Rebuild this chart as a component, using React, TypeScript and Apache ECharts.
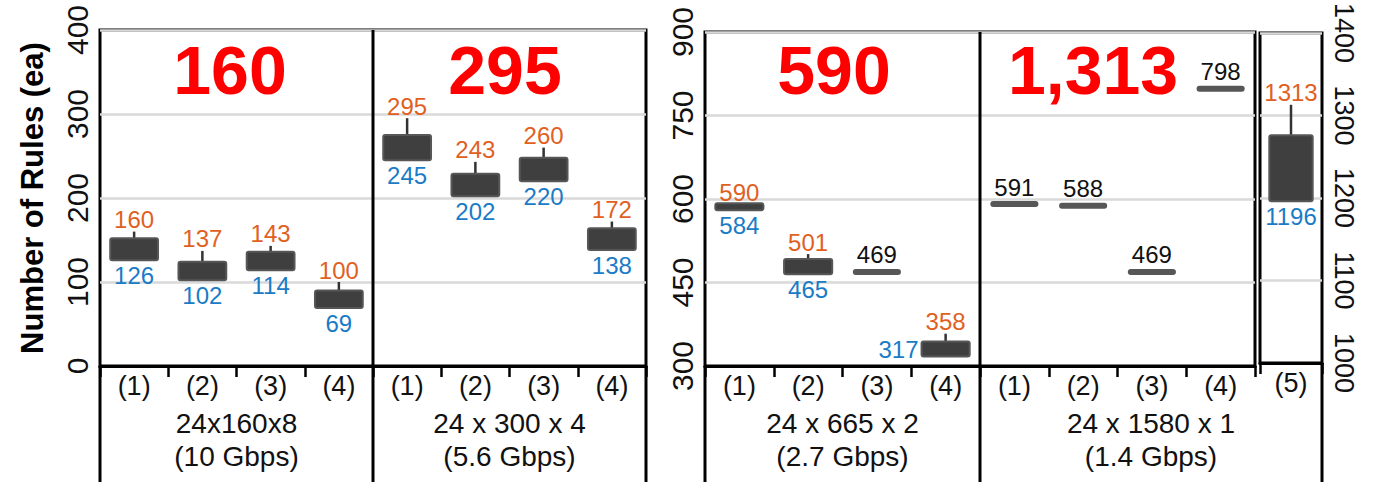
import React, { useEffect, useRef } from "react";
import * as echarts from "echarts";

// ---------- data ----------
const leftCategories = ["(1)", "(2)", "(3)", "(4)", "(1)", "(2)", "(3)", "(4)"];
const leftMin = [126, 102, 114, 69, 245, 202, 220, 138];
const leftBoxTop = [152, 124, 136, 90, 275, 229, 248, 164];
const leftMax = [160, 137, 143, 100, 295, 243, 260, 172];

const rightCategories = ["(1)", "(2)", "(3)", "(4)", "(1)", "(2)", "(3)", "(4)"];
const rightMin = [584, 465, 469, 317, 591, 588, 469, 798];
const rightBoxTop = [588, 492, 469, 344, 591, 588, 469, 798];
const rightMax = [590, 501, 469, 358, 591, 588, 469, 798];

const extraCategories = ["(5)"];
const extraMin = [1196];
const extraBoxTop = [1276];
const extraMax = [1313];

const leftTicks = [0, 100, 200, 300, 400];
const rightTicks = [300, 450, 600, 750, 900];
const extraTicks = [1000, 1100, 1200, 1300, 1400];

const panelTotals = ["160", "295", "590", "1,313"];
const groupLine1 = ["24x160x8", "24 x 300 x 4", "24 x 665 x 2", "24 x 1580 x 1"];
const groupLine2 = ["(10 Gbps)", "(5.6 Gbps)", "(2.7 Gbps)", "(1.4 Gbps)"];

const yTitle = "Number of Rules (ea)";

// ---------- styles ----------
const FONT = "'Liberation Sans', Arial, Helvetica, sans-serif";
const ORANGE = "#E0611F";
const BLUE = "#1A7BC6";
const BOX_FILL = "#3f3f3f";
const BOX_STROKE = "#575757";
const GRID_GRAY = "#d9d9d9";

function buildData(min: number[], top: number[], max: number[]) {
  return min.map((v, i) => [i, v, top[i], max[i]]);
}

function renderItem(params: any, api: any) {
  const idx = api.value(0);
  const lo = api.value(1);
  const top = api.value(2);
  const hi = api.value(3);
  const pLo = api.coord([idx, lo]);
  const pTop = api.coord([idx, top]);
  const pHi = api.coord([idx, hi]);
  const band = api.size([1, 0])[0];
  const w = band * 0.7;
  const cx = pLo[0];
  const cs = params.coordSys;
  const gridBottom = cs.y + cs.height;
  const children: any[] = [];
  const labelFont = `24px ${FONT}`;
  if (lo === hi) {
    children.push({
      type: "rect",
      shape: { x: cx - w / 2, y: pLo[1] - 3, width: w, height: 6, r: 3 },
      style: { fill: "#575757" },
    });
    children.push({
      type: "text",
      style: {
        text: String(lo),
        x: cx,
        y: pLo[1] - 17,
        align: "center",
        verticalAlign: "middle",
        fill: "#111",
        font: labelFont,
      },
    });
  } else {
    let y0 = pTop[1];
    let h = pLo[1] - pTop[1];
    const minH = 7;
    if (h < minH) {
      y0 = (pTop[1] + pLo[1]) / 2 - minH / 2;
      h = minH;
    }
    children.push({
      type: "line",
      shape: { x1: cx, y1: pHi[1], x2: cx, y2: y0 },
      style: { stroke: "#333", lineWidth: 2.5 },
    });
    children.push({
      type: "rect",
      shape: { x: cx - w / 2, y: y0, width: w, height: h, r: 2 },
      style: { fill: BOX_FILL, stroke: BOX_STROKE, lineWidth: 2 },
    });
    children.push({
      type: "text",
      style: {
        text: String(hi),
        x: cx,
        y: pHi[1] - 12,
        align: "center",
        verticalAlign: "middle",
        fill: ORANGE,
        font: labelFont,
      },
    });
    const bottom = y0 + h;
    if (bottom + 28 > gridBottom) {
      children.push({
        type: "text",
        style: {
          text: String(lo),
          x: cx - w / 2 - 3,
          y: y0 + h / 2,
          align: "right",
          verticalAlign: "middle",
          fill: BLUE,
          font: labelFont,
        },
      });
    } else {
      children.push({
        type: "text",
        style: {
          text: String(lo),
          x: cx,
          y: bottom + 15,
          align: "center",
          verticalAlign: "middle",
          fill: BLUE,
          font: labelFont,
        },
      });
    }
  }
  return { type: "group", children };
}

// layout constants
const A = { left: 100, top: 30, width: 546, height: 336 };
const B = { left: 705, top: 32, width: 550, height: 334 };
const C = { left: 1260, top: 31, width: 62, height: 332 };
const H = 482;
const W = 1378;

function makeXAxis(gridIndex: number, cats: string[]) {
  return {
    type: "category",
    gridIndex,
    data: cats,
    boundaryGap: true,
    axisLine: { show: true, lineStyle: { color: "#000", width: 3 } },
    axisTick: { show: true, length: 11, lineStyle: { color: "#000", width: 2.5 } },
    axisLabel: { fontSize: 27, color: "#111", fontFamily: FONT, margin: 6, interval: 0 },
    splitLine: { show: false },
  };
}

function makeYAxis(gridIndex: number, ticks: number[], position: string, rotate: number, fontSize: number) {
  return {
    type: "value",
    gridIndex,
    position,
    min: ticks[0],
    max: ticks[ticks.length - 1],
    interval: ticks[1] - ticks[0],
    axisLine: { show: false },
    axisTick: { show: false },
    axisLabel: {
      rotate,
      fontSize,
      color: "#111",
      fontFamily: FONT,
      margin: 8,
      formatter: (v: number) => String(v),
    },
    splitLine: { show: true, lineStyle: { color: GRID_GRAY, width: 2.5 } },
  };
}

export default function App() {
  const ref = useRef<HTMLDivElement>(null);
  useEffect(() => {
    if (!ref.current) return;
    const chart = echarts.init(ref.current, undefined, { renderer: "svg" });

    const aBand = A.width / leftCategories.length;
    const bBand = B.width / rightCategories.length;
    const panelCenters = [
      A.left + aBand * 2,
      A.left + aBand * 6,
      B.left + bBand * 2,
      (B.left + bBand * 4 + C.left + C.width) / 2,
    ];
    const totalX = [230, 505, 834, 1093];

    const lineEl = (x: number, y1: number, y2: number) => ({
      type: "line",
      shape: { x1: x, y1, x2: x, y2 },
      style: { stroke: "#000", lineWidth: 3 },
      z: 100,
    });

    const graphics: any[] = [
      lineEl(A.left, A.top + A.height, H),
      lineEl(A.left + aBand * 4, A.top, H),
      lineEl(A.left + A.width, A.top + A.height, H),
      lineEl(B.left, B.top + B.height, H),
      lineEl(B.left + bBand * 4, B.top, H),
      lineEl(C.left + C.width, C.top + C.height, H),
    ];
    panelTotals.forEach((t, i) => {
      graphics.push({
        type: "text",
        x: totalX[i],
        y: 70,
        style: {
          text: t,
          align: "center",
          verticalAlign: "middle",
          fill: "#ff0000",
          font: `bold 68px ${FONT}`,
        },
        z: 100,
      });
    });
    groupLine1.forEach((t, i) => {
      graphics.push({
        type: "text",
        x: panelCenters[i],
        y: 423,
        style: { text: t, align: "center", verticalAlign: "middle", fill: "#111", font: `28px ${FONT}` },
      });
      graphics.push({
        type: "text",
        x: panelCenters[i],
        y: 456,
        style: { text: groupLine2[i], align: "center", verticalAlign: "middle", fill: "#111", font: `28px ${FONT}` },
      });
    });

    const gridStyle = { show: true, borderColor: "#000", borderWidth: 3, backgroundColor: "transparent" };

    chart.setOption({
      animation: false,
      grid: [
        { ...gridStyle, left: A.left, top: A.top, width: A.width, height: A.height },
        { ...gridStyle, left: B.left, top: B.top, width: B.width, height: B.height },
        { ...gridStyle, left: C.left, top: C.top, width: C.width, height: C.height },
      ],
      xAxis: [
        makeXAxis(0, leftCategories),
        makeXAxis(1, rightCategories),
        makeXAxis(2, extraCategories),
      ],
      yAxis: [
        {
          ...makeYAxis(0, leftTicks, "left", 90, 30),
          name: yTitle,
          nameLocation: "middle",
          nameRotate: 90,
          nameGap: 52,
          nameTextStyle: { fontSize: 31, fontWeight: "bold", color: "#000", fontFamily: FONT },
        },
        makeYAxis(1, rightTicks, "left", 90, 30),
        makeYAxis(2, extraTicks, "right", -90, 27),
      ],
      series: [
        {
          type: "custom",
          xAxisIndex: 0,
          yAxisIndex: 0,
          renderItem,
          encode: { x: 0, y: [1, 2, 3] },
          data: buildData(leftMin, leftBoxTop, leftMax),
          z: 10,
        },
        {
          type: "custom",
          xAxisIndex: 1,
          yAxisIndex: 1,
          renderItem,
          encode: { x: 0, y: [1, 2, 3] },
          data: buildData(rightMin, rightBoxTop, rightMax),
          z: 10,
        },
        {
          type: "custom",
          xAxisIndex: 2,
          yAxisIndex: 2,
          renderItem,
          encode: { x: 0, y: [1, 2, 3] },
          data: buildData(extraMin, extraBoxTop, extraMax),
          z: 10,
        },
      ],
      graphic: graphics,
    });
    return () => chart.dispose();
  }, []);
  return <div ref={ref} style={{ width: W, height: H, position: "absolute", left: 0, top: 0 }} />;
}
